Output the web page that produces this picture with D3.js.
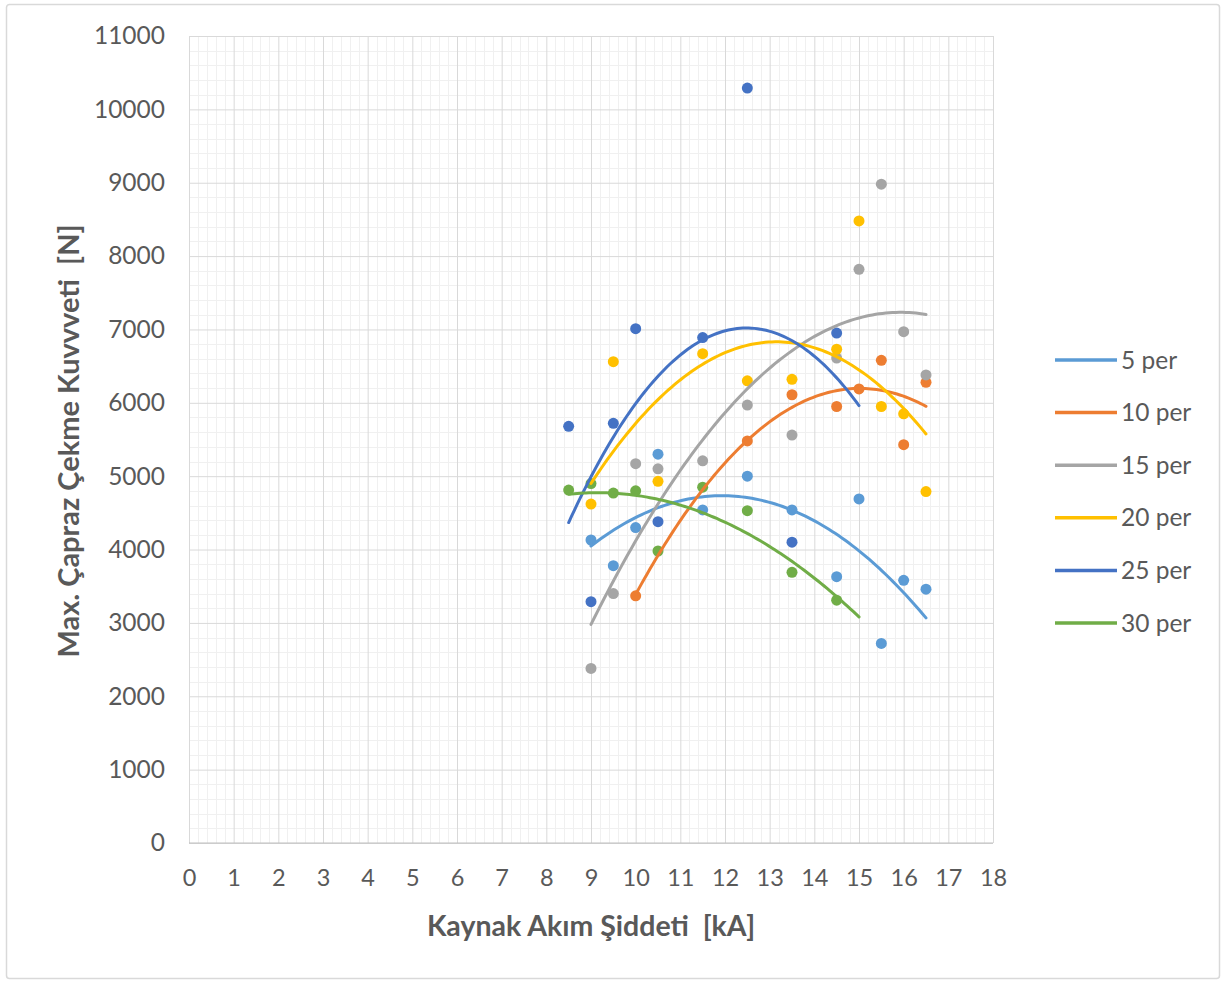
<!DOCTYPE html>
<html>
<head>
<meta charset="utf-8">
<script src="https://cdn.jsdelivr.net/npm/d3@7"></script>
<style>
  html, body { margin: 0; padding: 0; background: #ffffff; }
  svg { display: block; }
  .ttl { white-space: pre; }
</style>
</head>
<body>
<script>
// ---------- DATA ----------
const seriesNames = ["5 per", "10 per", "15 per", "20 per", "25 per", "30 per"];
const seriesColors = ["#5B9BD5", "#ED7D31", "#A5A5A5", "#FFC000", "#4472C4", "#70AD47"];

const s5x  = [9, 9.5, 10, 10.5, 11.5, 12.5, 13.5, 14.5, 15, 15.5, 16, 16.5];
const s5y  = [4130, 3780, 4300, 5300, 4540, 5000, 4540, 3630, 4690, 2720, 3580, 3460];

const s10x = [10, 12.5, 13.5, 14.5, 15, 15.5, 16, 16.5];
const s10y = [3370, 5480, 6110, 5950, 6190, 6580, 5430, 6280];

const s15x = [9, 9.5, 10, 10.5, 11.5, 12.5, 13.5, 14.5, 15, 15.5, 16, 16.5];
const s15y = [2380, 3400, 5170, 5100, 5210, 5970, 5560, 6610, 7820, 8980, 6970, 6380];

const s20x = [9, 9.5, 10.5, 11.5, 12.5, 13.5, 14.5, 15, 15.5, 16, 16.5];
const s20y = [4620, 6560, 4930, 6670, 6300, 6320, 6730, 8480, 5950, 5850, 4790];

const s25x = [8.5, 9, 9.5, 10, 10.5, 11.5, 12.5, 13.5, 14.5];
const s25y = [5680, 3290, 5720, 7010, 4380, 6890, 10290, 4100, 6950];

const s30x = [8.5, 9, 9.5, 10, 10.5, 11.5, 12.5, 13.5, 14.5];
const s30y = [4810, 4900, 4770, 4800, 3980, 4850, 4530, 3690, 3310];

// trendline forward forecast (kA) per series
const trendForward = [0, 0, 0, 0, 0.5, 0.5];

const xTicks = d3.range(0, 19, 1);
const yTicks = d3.range(0, 12000, 1000);

const xTitle = "Kaynak Akım Şiddeti  [kA]";
const yTitle = "Max. Çapraz Çekme Kuvvveti  [N]";

// ---------- LAYOUT ----------
const W = 1226, H = 983;
const plot = { left: 189, right: 993, top: 36, bottom: 843 };
const FONT = "Lato, 'Open Sans', sans-serif";

const seriesX = [s5x, s10x, s15x, s20x, s25x, s30x];
const seriesY = [s5y, s10y, s15y, s20y, s25y, s30y];

const x = d3.scaleLinear().domain([0, 18]).range([plot.left, plot.right]);
const y = d3.scaleLinear().domain([0, 11000]).range([plot.bottom, plot.top]);

const svg = d3.select("body").append("svg").attr("width", W).attr("height", H);

// outer border
svg.append("rect").attr("x", 6.5).attr("y", 4.5).attr("width", W - 13).attr("height", H - 9)
  .attr("rx", 3).attr("fill", "#fff").attr("stroke", "#d9d9d9").attr("stroke-width", 1.5);

// minor gridlines
const g = svg.append("g");
const minorX = d3.range(0, 18.001, 0.2).filter(v => Math.abs(v - Math.round(v)) > 1e-6);
const minorY = d3.range(0, 11000.1, 200).filter(v => v % 1000 !== 0);
g.selectAll("line.mx").data(minorX).join("line")
  .attr("x1", d => Math.round(x(d)) + 0.5).attr("x2", d => Math.round(x(d)) + 0.5)
  .attr("y1", plot.top).attr("y2", plot.bottom).attr("stroke", "#f0f0f0").attr("stroke-width", 1);
g.selectAll("line.my").data(minorY).join("line")
  .attr("y1", d => Math.round(y(d)) + 0.5).attr("y2", d => Math.round(y(d)) + 0.5)
  .attr("x1", plot.left).attr("x2", plot.right).attr("stroke", "#f0f0f0").attr("stroke-width", 1);

// major gridlines via axes
const xGrid = d3.axisBottom(x).tickValues(xTicks).tickSize(-(plot.bottom - plot.top)).tickFormat("");
svg.append("g").attr("transform", `translate(0,${plot.bottom})`).call(xGrid)
  .call(s => s.select(".domain").remove())
  .call(s => s.selectAll("line").attr("stroke", "#d9d9d9"));
const yGrid = d3.axisLeft(y).tickValues(yTicks).tickSize(-(plot.right - plot.left)).tickFormat("");
svg.append("g").attr("transform", `translate(${plot.left},0)`).call(yGrid)
  .call(s => s.select(".domain").remove())
  .call(s => s.selectAll("line").attr("stroke", "#d9d9d9"));

// axis line
svg.append("line").attr("x1", plot.left).attr("x2", plot.right).attr("y1", plot.bottom).attr("y2", plot.bottom)
  .attr("stroke", "#bfbfbf").attr("stroke-width", 1.2);

// tick labels via axes
const xAxis = d3.axisBottom(x).tickValues(xTicks).tickSize(0).tickPadding(26).tickFormat(d3.format("d"));
svg.append("g").attr("transform", `translate(0,${plot.bottom})`).call(xAxis)
  .call(s => s.select(".domain").remove())
  .call(s => s.selectAll("text").attr("font-family", FONT).attr("font-size", 23.5).attr("fill", "#595959"));
const yAxis = d3.axisLeft(y).tickValues(yTicks).tickSize(0).tickPadding(24).tickFormat(d3.format("d"));
svg.append("g").attr("transform", `translate(${plot.left},0)`).call(yAxis)
  .call(s => s.select(".domain").remove())
  .call(s => s.selectAll("text").attr("font-family", FONT).attr("font-size", 24.5).attr("fill", "#595959"));

// axis titles
svg.append("text").attr("class", "ttl").attr("x", 591).attr("y", 936)
  .attr("text-anchor", "middle").attr("font-family", FONT).attr("font-weight", "bold")
  .attr("font-size", 28.5).attr("fill", "#595959").text(xTitle);
svg.append("text").attr("class", "ttl").attr("transform", `translate(79,441) rotate(-90)`)
  .attr("text-anchor", "middle").attr("font-family", FONT).attr("font-weight", "bold")
  .attr("font-size", 29).attr("fill", "#595959").text(yTitle);

// quadratic least squares fit
function polyfit2(xs, ys) {
  let S = [0, 0, 0, 0, 0], T = [0, 0, 0];
  xs.forEach((xv, i) => {
    let p = 1;
    for (let k = 0; k < 5; k++) { S[k] += p; p *= xv; }
    T[0] += ys[i]; T[1] += ys[i] * xv; T[2] += ys[i] * xv * xv;
  });
  const M = [[S[0], S[1], S[2], T[0]], [S[1], S[2], S[3], T[1]], [S[2], S[3], S[4], T[2]]];
  for (let c = 0; c < 3; c++) {
    let piv = c;
    for (let r = c + 1; r < 3; r++) if (Math.abs(M[r][c]) > Math.abs(M[piv][c])) piv = r;
    [M[c], M[piv]] = [M[piv], M[c]];
    for (let r = 0; r < 3; r++) {
      if (r === c) continue;
      const f = M[r][c] / M[c][c];
      for (let k = c; k < 4; k++) M[r][k] -= f * M[c][k];
    }
  }
  return [M[0][3] / M[0][0], M[1][3] / M[1][1], M[2][3] / M[2][2]];
}

const line = d3.line().x(d => x(d[0])).y(d => y(d[1])).curve(d3.curveLinear);

// points (drawn in series order)
seriesNames.forEach((name, i) => {
  const pts = seriesX[i].map((xv, j) => [xv, seriesY[i][j]]);
  svg.append("g").selectAll("circle").data(pts).join("circle")
    .attr("cx", d => x(d[0])).attr("cy", d => y(d[1])).attr("r", 5.5)
    .attr("fill", seriesColors[i]);
});

// trendlines
seriesNames.forEach((name, i) => {
  const c = polyfit2(seriesX[i], seriesY[i]);
  const x0 = d3.min(seriesX[i]), x1 = d3.max(seriesX[i]) + trendForward[i];
  const samples = d3.range(0, 101).map(k => {
    const xv = x0 + (x1 - x0) * k / 100;
    return [xv, c[0] + c[1] * xv + c[2] * xv * xv];
  });
  svg.append("path").datum(samples).attr("d", line).attr("fill", "none")
    .attr("stroke", seriesColors[i]).attr("stroke-width", 3).attr("stroke-linecap", "round");
});

// legend
const legend = svg.append("g");
seriesNames.forEach((name, i) => {
  const ly = 360 + i * 52.6;
  legend.append("line").attr("x1", 1055).attr("x2", 1117).attr("y1", ly).attr("y2", ly)
    .attr("stroke", seriesColors[i]).attr("stroke-width", 3.5);
  legend.append("text").attr("x", 1121).attr("y", ly).attr("dy", "0.35em")
    .attr("font-family", FONT).attr("font-size", 24.5).attr("fill", "#595959").text(name);
});
</script>
</body>
</html>
